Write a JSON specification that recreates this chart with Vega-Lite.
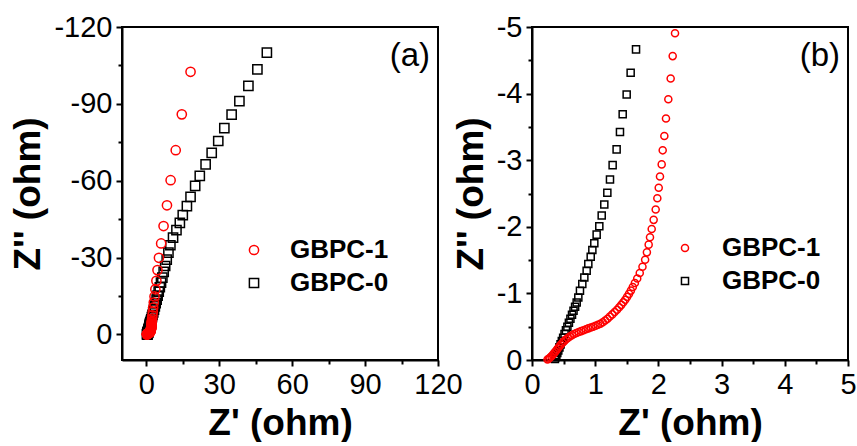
{
  "$schema": "https://vega.github.io/schema/vega-lite/v6.json",
  "padding": {"left": 8, "top": 12, "right": 0, "bottom": 0},
  "background": "white",
  "bounds": "flush",
  "spacing": 94,
  "datasets": {
    "eis": [
      {"s":"GBPC-0","x":0.363,"y":-0.015},{"s":"GBPC-0","x":0.373,"y":-0.04},{"s":"GBPC-0","x":0.385,"y":-0.07},{"s":"GBPC-0","x":0.400,"y":-0.105},{"s":"GBPC-0","x":0.416,"y":-0.145},{"s":"GBPC-0","x":0.434,"y":-0.19},{"s":"GBPC-0","x":0.452,"y":-0.235},{"s":"GBPC-0","x":0.472,"y":-0.285},{"s":"GBPC-0","x":0.493,"y":-0.335},{"s":"GBPC-0","x":0.515,"y":-0.39},{"s":"GBPC-0","x":0.537,"y":-0.445},{"s":"GBPC-0","x":0.560,"y":-0.50},{"s":"GBPC-0","x":0.584,"y":-0.56},{"s":"GBPC-0","x":0.608,"y":-0.62},{"s":"GBPC-0","x":0.633,"y":-0.68},{"s":"GBPC-0","x":0.657,"y":-0.74},{"s":"GBPC-0","x":0.682,"y":-0.80},{"s":"GBPC-0","x":0.707,"y":-0.863},{"s":"GBPC-0","x":0.733,"y":-0.938},{"s":"GBPC-0","x":0.759,"y":-1.039},{"s":"GBPC-0","x":0.796,"y":-1.14},{"s":"GBPC-0","x":0.828,"y":-1.24},{"s":"GBPC-0","x":0.865,"y":-1.34},{"s":"GBPC-0","x":0.891,"y":-1.441},{"s":"GBPC-0","x":0.929,"y":-1.551},{"s":"GBPC-0","x":0.955,"y":-1.652},{"s":"GBPC-0","x":0.986,"y":-1.752},{"s":"GBPC-0","x":1.023,"y":-1.883},{"s":"GBPC-0","x":1.065,"y":-2.008},{"s":"GBPC-0","x":1.103,"y":-2.169},{"s":"GBPC-0","x":1.144,"y":-2.334},{"s":"GBPC-0","x":1.192,"y":-2.51},{"s":"GBPC-0","x":1.234,"y":-2.711},{"s":"GBPC-0","x":1.276,"y":-2.926},{"s":"GBPC-0","x":1.339,"y":-3.163},{"s":"GBPC-0","x":1.392,"y":-3.423},{"s":"GBPC-0","x":1.435,"y":-3.69},{"s":"GBPC-0","x":1.498,"y":-3.986},{"s":"GBPC-0","x":1.561,"y":-4.312},{"s":"GBPC-0","x":1.646,"y":-4.664},
      {"s":"GBPC-0","x":1.85,"y":-5.25},{"s":"GBPC-0","x":2.05,"y":-5.9},{"s":"GBPC-0","x":2.3,"y":-6.7},{"s":"GBPC-0","x":2.55,"y":-7.6},{"s":"GBPC-0","x":2.85,"y":-8.6},{"s":"GBPC-0","x":3.15,"y":-9.7},{"s":"GBPC-0","x":3.5,"y":-10.9},{"s":"GBPC-0","x":3.85,"y":-12.2},{"s":"GBPC-0","x":4.25,"y":-13.6},{"s":"GBPC-0","x":4.65,"y":-15.1},{"s":"GBPC-0","x":5.1,"y":-16.7},{"s":"GBPC-0","x":5.55,"y":-18.4},{"s":"GBPC-0","x":6.05,"y":-20.2},{"s":"GBPC-0","x":6.6,"y":-22.2},{"s":"GBPC-0","x":7.15,"y":-24.4},{"s":"GBPC-0","x":7.75,"y":-26.7},{"s":"GBPC-0","x":8.4,"y":-29.2},{"s":"GBPC-0","x":9.1,"y":-31.9},{"s":"GBPC-0","x":9.9,"y":-34.8},{"s":"GBPC-0","x":11.0,"y":-37.8},{"s":"GBPC-0","x":12.4,"y":-40.7},{"s":"GBPC-0","x":13.8,"y":-43.5},{"s":"GBPC-0","x":15.0,"y":-46.6},{"s":"GBPC-0","x":16.7,"y":-50.1},{"s":"GBPC-0","x":18.2,"y":-53.7},{"s":"GBPC-0","x":20.1,"y":-58.0},{"s":"GBPC-0","x":22.0,"y":-61.9},{"s":"GBPC-0","x":24.4,"y":-66.4},{"s":"GBPC-0","x":26.9,"y":-70.9},{"s":"GBPC-0","x":29.6,"y":-75.5},{"s":"GBPC-0","x":32.1,"y":-80.5},{"s":"GBPC-0","x":35.1,"y":-85.8},{"s":"GBPC-0","x":38.3,"y":-91.1},{"s":"GBPC-0","x":42.0,"y":-97.0},{"s":"GBPC-0","x":45.7,"y":-103.5},{"s":"GBPC-0","x":49.6,"y":-110.0},
      {"s":"GBPC-1","x":0.245,"y":-0.008},{"s":"GBPC-1","x":0.266,"y":-0.02},{"s":"GBPC-1","x":0.287,"y":-0.037},{"s":"GBPC-1","x":0.308,"y":-0.057},{"s":"GBPC-1","x":0.329,"y":-0.079},{"s":"GBPC-1","x":0.35,"y":-0.103},{"s":"GBPC-1","x":0.371,"y":-0.128},{"s":"GBPC-1","x":0.392,"y":-0.154},{"s":"GBPC-1","x":0.413,"y":-0.18},{"s":"GBPC-1","x":0.435,"y":-0.206},{"s":"GBPC-1","x":0.458,"y":-0.232},{"s":"GBPC-1","x":0.482,"y":-0.258},{"s":"GBPC-1","x":0.508,"y":-0.283},{"s":"GBPC-1","x":0.536,"y":-0.307},{"s":"GBPC-1","x":0.566,"y":-0.33},{"s":"GBPC-1","x":0.598,"y":-0.352},{"s":"GBPC-1","x":0.632,"y":-0.372},{"s":"GBPC-1","x":0.667,"y":-0.39},{"s":"GBPC-1","x":0.703,"y":-0.405},{"s":"GBPC-1","x":0.74,"y":-0.42},{"s":"GBPC-1","x":0.778,"y":-0.434},{"s":"GBPC-1","x":0.816,"y":-0.448},{"s":"GBPC-1","x":0.854,"y":-0.461},{"s":"GBPC-1","x":0.892,"y":-0.475},{"s":"GBPC-1","x":0.93,"y":-0.488},{"s":"GBPC-1","x":0.968,"y":-0.5},{"s":"GBPC-1","x":1.006,"y":-0.513},{"s":"GBPC-1","x":1.044,"y":-0.528},{"s":"GBPC-1","x":1.082,"y":-0.545},{"s":"GBPC-1","x":1.12,"y":-0.567},{"s":"GBPC-1","x":1.158,"y":-0.592},{"s":"GBPC-1","x":1.195,"y":-0.62},{"s":"GBPC-1","x":1.232,"y":-0.652},{"s":"GBPC-1","x":1.27,"y":-0.685},{"s":"GBPC-1","x":1.308,"y":-0.72},{"s":"GBPC-1","x":1.345,"y":-0.755},{"s":"GBPC-1","x":1.38,"y":-0.791},{"s":"GBPC-1","x":1.413,"y":-0.828},{"s":"GBPC-1","x":1.445,"y":-0.866},{"s":"GBPC-1","x":1.475,"y":-0.905},{"s":"GBPC-1","x":1.505,"y":-0.948},{"s":"GBPC-1","x":1.535,"y":-0.993},{"s":"GBPC-1","x":1.565,"y":-1.042},{"s":"GBPC-1","x":1.595,"y":-1.095},{"s":"GBPC-1","x":1.628,"y":-1.155},{"s":"GBPC-1","x":1.665,"y":-1.225},{"s":"GBPC-1","x":1.705,"y":-1.305},{"s":"GBPC-1","x":1.748,"y":-1.4},{"s":"GBPC-1","x":1.79,"y":-1.505},{"s":"GBPC-1","x":1.818,"y":-1.616},{"s":"GBPC-1","x":1.846,"y":-1.732},{"s":"GBPC-1","x":1.867,"y":-1.842},{"s":"GBPC-1","x":1.894,"y":-1.968},{"s":"GBPC-1","x":1.925,"y":-2.104},{"s":"GBPC-1","x":1.957,"y":-2.259},{"s":"GBPC-1","x":1.983,"y":-2.429},{"s":"GBPC-1","x":2.005,"y":-2.586},{"s":"GBPC-1","x":2.025,"y":-2.756},{"s":"GBPC-1","x":2.052,"y":-2.937},{"s":"GBPC-1","x":2.068,"y":-3.148},{"s":"GBPC-1","x":2.094,"y":-3.363},{"s":"GBPC-1","x":2.12,"y":-3.625},{"s":"GBPC-1","x":2.157,"y":-3.916},{"s":"GBPC-1","x":2.194,"y":-4.227},{"s":"GBPC-1","x":2.226,"y":-4.563},{"s":"GBPC-1","x":2.263,"y":-4.905},
      {"s":"GBPC-1","x":2.3,"y":-5.3},{"s":"GBPC-1","x":2.4,"y":-6.2},{"s":"GBPC-1","x":2.52,"y":-7.4},{"s":"GBPC-1","x":2.66,"y":-8.8},{"s":"GBPC-1","x":2.85,"y":-10.5},{"s":"GBPC-1","x":3.07,"y":-12.4},{"s":"GBPC-1","x":3.38,"y":-14.8},{"s":"GBPC-1","x":3.72,"y":-17.6},{"s":"GBPC-1","x":4.15,"y":-20.9},{"s":"GBPC-1","x":4.6,"y":-25.1},{"s":"GBPC-1","x":5.2,"y":-29.9},{"s":"GBPC-1","x":6.1,"y":-35.5},{"s":"GBPC-1","x":7.1,"y":-42.3},{"s":"GBPC-1","x":8.5,"y":-50.4},{"s":"GBPC-1","x":10.0,"y":-60.2},{"s":"GBPC-1","x":12.1,"y":-71.9},{"s":"GBPC-1","x":14.6,"y":-85.9},{"s":"GBPC-1","x":18.2,"y":-102.5}
    ]
  },
  "hconcat": [
    {
      "width": 316,
      "height": 333,
      "data": {"name": "eis"},
      "title": {"text": "(a)", "orient": "top", "anchor": "end", "frame": "group", "fontSize": 33, "fontWeight": "normal", "font": "Liberation Sans", "color": "black", "baseline": "top", "offset": 0, "dy": 60, "dx": -8},
      "mark": {"type": "point", "filled": false, "strokeWidth": 1.5, "size": 85, "opacity": 1},
      "encoding": {
        "x": {"field": "x", "type": "quantitative", "title": "Z' (ohm)",
          "scale": {"domain": [-10, 120], "nice": false, "zero": false},
          "axis": {"values": [0, 15, 30, 45, 60, 75, 90, 105, 120],
            "labelExpr": "datum.value % 30 === 0 ? '' + datum.value : ''",
            "tickSize": {"condition": {"test": "datum.value % 30 === 0", "value": 6}, "value": 4}}},
        "y": {"field": "y", "type": "quantitative", "title": "Z'' (ohm)",
          "scale": {"domain": [-120, 10], "reverse": true, "nice": false, "zero": false},
          "axis": {"values": [-120, -105, -90, -75, -60, -45, -30, -15, 0],
            "labelExpr": "datum.value % 30 === 0 ? '' + datum.value : ''",
            "tickSize": {"condition": {"test": "datum.value % 30 === 0", "value": 6}, "value": 4}}},
        "color": {"field": "s", "type": "nominal",
          "scale": {"domain": ["GBPC-1", "GBPC-0"], "range": ["#ff0000", "#000000"]},
          "legend": {"orient": "none", "legendX": 119, "legendY": 210, "title": null, "symbolSize": 85, "labelOffset": 23, "rowPadding": 7}},
        "shape": {"field": "s", "type": "nominal",
          "scale": {"domain": ["GBPC-1", "GBPC-0"], "range": ["circle", "square"]},
          "legend": {"orient": "none", "legendX": 119, "legendY": 210, "title": null, "symbolSize": 85, "labelOffset": 23, "rowPadding": 7}}
      }
    },
    {
      "width": 316,
      "height": 333,
      "data": {"name": "eis"},
      "transform": [{"filter": "datum.y >= -5 && datum.x <= 5"}],
      "title": {"text": "(b)", "orient": "top", "anchor": "end", "frame": "group", "fontSize": 33, "fontWeight": "normal", "font": "Liberation Sans", "color": "black", "baseline": "top", "offset": 0, "dy": 60, "dx": -8},
      "mark": {"type": "point", "filled": false, "strokeWidth": 1.5, "size": 50, "opacity": 1},
      "encoding": {
        "x": {"field": "x", "type": "quantitative", "title": "Z' (ohm)",
          "scale": {"domain": [0, 5], "nice": false, "zero": false},
          "axis": {"values": [0, 0.5, 1, 1.5, 2, 2.5, 3, 3.5, 4, 4.5, 5],
            "labelExpr": "datum.value % 1 === 0 ? '' + datum.value : ''",
            "tickSize": {"condition": {"test": "datum.value % 1 === 0", "value": 6}, "value": 4}}},
        "y": {"field": "y", "type": "quantitative", "title": "Z'' (ohm)",
          "scale": {"domain": [-5, 0], "reverse": true, "nice": false, "zero": false},
          "axis": {"values": [-5, -4.5, -4, -3.5, -3, -2.5, -2, -1.5, -1, -0.5, 0],
            "labelExpr": "datum.value % 1 === 0 ? '' + datum.value : ''",
            "tickSize": {"condition": {"test": "datum.value % 1 === 0", "value": 6}, "value": 4}}},
        "color": {"field": "s", "type": "nominal",
          "scale": {"domain": ["GBPC-1", "GBPC-0"], "range": ["#ff0000", "#000000"]},
          "legend": {"orient": "none", "legendX": 140, "legendY": 208, "title": null, "symbolSize": 50, "labelOffset": 24, "rowPadding": 7}},
        "shape": {"field": "s", "type": "nominal",
          "scale": {"domain": ["GBPC-1", "GBPC-0"], "range": ["circle", "square"]},
          "legend": {"orient": "none", "legendX": 140, "legendY": 208, "title": null, "symbolSize": 50, "labelOffset": 24, "rowPadding": 7}}
      }
    }
  ],
  "resolve": {
    "scale": {"x": "independent", "y": "independent", "color": "independent", "shape": "independent"},
    "axis": {"x": "independent", "y": "independent"},
    "legend": {"color": "independent", "shape": "independent"}
  },
  "config": {
    "font": "Liberation Sans",
    "view": {"stroke": "black", "strokeWidth": 2},
    "axis": {
      "domainColor": "black", "domainWidth": 2, "tickColor": "black", "tickWidth": 2,
      "labelFont": "Liberation Sans", "labelFontSize": 29, "labelColor": "black", "labelPadding": 4,
      "labelOverlap": false, "labelFlush": false, "labelBound": false,
      "titleFont": "Liberation Sans", "titleFontSize": 37, "titleFontWeight": "bold", "titleColor": "black", "titlePadding": 6,
      "grid": false
    },
    "legend": {
      "labelFont": "Liberation Sans", "labelFontSize": 26, "labelFontWeight": "bold", "labelColor": "black",
      "symbolStrokeWidth": 1.5, "padding": 0, "symbolFillColor": "transparent"
    }
  }
}
